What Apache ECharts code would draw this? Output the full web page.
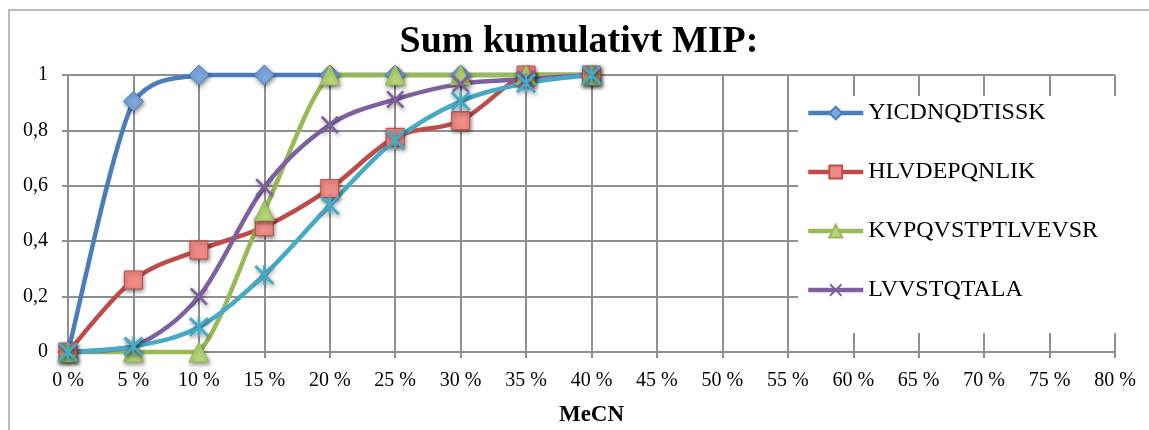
<!DOCTYPE html>
<html>
<head>
<meta charset="utf-8">
<script src="https://cdn.jsdelivr.net/npm/echarts@6/dist/echarts.min.js"></script>
<style>
  html, body { margin: 0; padding: 0; background: #fff; }
  #chart { width: 1149px; height: 430px; }
</style>
</head>
<body>
<div id="chart"></div>
<script>
// MeCN concentration (%) at each measured step
const mecn = [0, 5, 10, 15, 20, 25, 30, 35, 40];

// Cumulative fraction eluted per peptide
const yicdnqdtissk    = [0, 0.905, 1, 1, 1, 1, 1, 1, 1];
const hlvdepqnlik     = [0, 0.26, 0.368, 0.452, 0.59, 0.775, 0.835, 1, 1];
const kvpqvstptlvevsr = [0, 0, 0, 0.51, 1, 1, 1, 1, 1];
const lvvstqtala      = [0, 0.02, 0.2, 0.595, 0.82, 0.912, 0.968, 0.985, 1];
const serie5          = [0, 0.02, 0.09, 0.278, 0.53, 0.765, 0.905, 0.97, 1];

const xTicks = { min: 0, max: 80, step: 5 };
const yTicks = { min: 0, max: 1, step: 0.2 };

const serif = '"Liberation Serif", "DejaVu Serif", serif';

const xMark = 'path://M0,1 L1,0 L10,9 L9,10 Z M9,0 L10,1 L1,10 L0,9 Z';
const starMark = 'path://M0,1 L1,0 L10,9 L9,10 Z M9,0 L10,1 L1,10 L0,9 Z M4.4,0 L5.6,0 L5.6,10 L4.4,10 Z';

const shadow = { shadowColor: 'rgba(0,0,0,0.45)', shadowBlur: 4, shadowOffsetX: 1, shadowOffsetY: 2 };
const LINE_W = 4.5;

function pairs(values) {
  return mecn.map((x, i) => [x, values[i]]);
}

function clamp(v, a, b) {
  return Math.min(Math.max(v, Math.min(a, b)), Math.max(a, b));
}

// Smoothed connecting curve: cubic Bezier segments whose control points
// follow the neighbouring points (1/6 tangent factor), kept inside the
// vertical range of each segment so the curve never overshoots.
// All positions come from the axis scales via api.coord.
function curveSeries(values, color) {
  return {
    type: 'custom',
    data: pairs(values),
    encode: { x: 0, y: 1 },
    silent: true,
    clip: false,
    animation: false,
    renderItem: function (params, api) {
      if (params.dataIndex !== 0) return null;
      const p = mecn.map((x, i) => api.coord([x, values[i]]));
      const n = p.length;
      const children = [];
      for (let i = 0; i < n - 1; i++) {
        const p0 = p[Math.max(i - 1, 0)];
        const p1 = p[i];
        const p2 = p[i + 1];
        const p3 = p[Math.min(i + 2, n - 1)];
        children.push({
          type: 'bezierCurve',
          shape: {
            x1: p1[0], y1: p1[1],
            x2: p2[0], y2: p2[1],
            cpx1: p1[0] + (p2[0] - p0[0]) / 6,
            cpy1: clamp(p1[1] + (p2[1] - p0[1]) / 6, p1[1], p2[1]),
            cpx2: p2[0] - (p3[0] - p1[0]) / 6,
            cpy2: clamp(p2[1] - (p3[1] - p1[1]) / 6, p1[1], p2[1])
          },
          style: { stroke: color, lineWidth: LINE_W, fill: null, lineCap: 'round' }
        });
      }
      return { type: 'group', children: children };
    }
  };
}

// Markers (and legend entry) for one peptide
function markerSeries(name, values, line, symbol, size, fill, border) {
  return {
    name: name,
    type: 'line',
    data: pairs(values),
    symbol: symbol,
    symbolSize: size,
    showAllSymbol: true,
    lineStyle: { color: line, width: 0, opacity: 0 },
    itemStyle: Object.assign({ color: fill, borderColor: border, borderWidth: border ? 1 : 0 }, shadow),
    emphasis: { disabled: true },
    animation: false
  };
}

function peptide(name, values, line, symbol, size, fill, border) {
  return [
    curveSeries(values, line),
    markerSeries(name, values, line, symbol, size, fill, border)
  ];
}

const chart = echarts.init(document.getElementById('chart'), null, { renderer: 'canvas' });

chart.setOption({
  backgroundColor: '#ffffff',
  animation: false,
  title: {
    text: 'Sum kumulativt MIP:',
    left: 574,
    textAlign: 'center',
    top: 18,
    textStyle: { fontFamily: serif, fontWeight: 'bold', fontSize: 38, color: '#000' }
  },
  grid: { left: 68, right: 34, top: 75, bottom: 78, containLabel: false, outerBoundsMode: 'none' },
  xAxis: {
    type: 'value',
    min: xTicks.min,
    max: xTicks.max,
    interval: xTicks.step,
    name: 'MeCN',
    nameLocation: 'middle',
    nameGap: 52,
    nameTextStyle: { fontFamily: serif, fontWeight: 'bold', fontSize: 23, color: '#000' },
    axisLine: { show: true, lineStyle: { color: '#8f8f8f', width: 2 } },
    axisTick: { show: true, length: 6, lineStyle: { color: '#8f8f8f', width: 2 } },
    axisLabel: {
      margin: 19,
      fontFamily: serif,
      fontSize: 20,
      color: '#000',
      formatter: v => v + ' %'
    },
    splitLine: { show: true, lineStyle: { color: '#8f8f8f', width: 2 } }
  },
  yAxis: {
    type: 'value',
    min: yTicks.min,
    max: yTicks.max,
    interval: yTicks.step,
    axisLine: { show: true, lineStyle: { color: '#8f8f8f', width: 2 } },
    axisTick: { show: true, length: 6, lineStyle: { color: '#8f8f8f', width: 2 } },
    axisLabel: {
      margin: 20,
      fontFamily: serif,
      fontSize: 20,
      color: '#000',
      formatter: v => String(Math.round(v * 10) / 10).replace('.', ',')
    },
    splitLine: { show: true, lineStyle: { color: '#8f8f8f', width: 2 } }
  },
  legend: {
    orient: 'vertical',
    left: 806,
    top: 101,
    padding: 0,
    itemWidth: 55,
    itemHeight: 16,
    itemGap: 35,
    lineStyle: { width: LINE_W, opacity: 1 },
    textStyle: { fontFamily: serif, fontSize: 24, lineHeight: 24, color: '#000' },
    data: ['YICDNQDTISSK', 'HLVDEPQNLIK', 'KVPQVSTPTLVEVSR', 'LVVSTQTALA']
  },
  graphic: [
    {
      type: 'rect',
      z: 3,
      silent: true,
      shape: { x: 798, y: 96, width: 360, height: 237 },
      style: { fill: '#ffffff' }
    },
    {
      type: 'rect',
      z: 10,
      silent: true,
      shape: { x: 9, y: 10, width: 1200, height: 500 },
      style: { fill: 'none', stroke: '#a6a6a6', lineWidth: 1.5 }
    }
  ],
  series: [].concat(
    peptide('YICDNQDTISSK', yicdnqdtissk, '#4A7EBB', 'diamond', 20, '#7BA6DE', '#4A7EBB'),
    peptide('HLVDEPQNLIK', hlvdepqnlik, '#BE4B48', 'rect', 18, '#F08A86', '#BE4B48'),
    peptide('KVPQVSTPTLVEVSR', kvpqvstptlvevsr, '#98B954', 'triangle', 20, '#B6D676', '#98B954'),
    peptide('LVVSTQTALA', lvvstqtala, '#7D60A0', xMark, 18, '#7D60A0', null),
    peptide('Serie 5', serie5, '#46AAC5', starMark, 20, '#46AAC5', null)
  )
});
</script>
</body>
</html>
